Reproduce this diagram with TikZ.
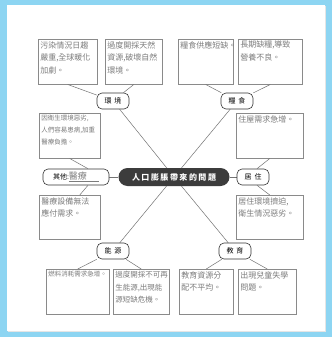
\documentclass[tikz,border=0pt]{standalone}
\usepackage{fontspec}
\newfontfamily\cjk{Noto Sans CJK TC}
\usetikzlibrary{backgrounds}
\definecolor{sky}{HTML}{8DD5F2}
\definecolor{boxgray}{HTML}{8A8A8A}
\definecolor{pencil}{HTML}{7C7C7C}
\definecolor{hubfill}{HTML}{3C3C3C}
\newcommand{\hand}{\cjk\fontsize{8}{12.5}\selectfont\color{pencil}}
\newcommand{\answer}[3]{\parbox[t][#2][t]{#1}{\raggedright #3}}

\begin{document}
\begin{tikzpicture}[x=1pt,y=-1pt,
  topic/.style={draw=black!80,fill=white,rounded corners=5pt,line width=.6pt,
    minimum width=32pt,minimum height=16pt,inner sep=1pt,
    font=\cjk\fontsize{7}{8}\selectfont},
  answerbox/.style={draw=boxgray,fill=white,anchor=north west,inner sep=2pt,
    line width=.5pt,font=\hand},
  link/.style={draw=black!55,line width=.5pt}]
\useasboundingbox (0,0) rectangle (332,337);

% centre
\node[fill=hubfill,rounded corners=9pt,minimum width=111pt,minimum height=18pt,
  text=white,font=\cjk\bfseries\fontsize{8}{9}\selectfont] (hub) at (174,177)
  {人\hspace{1.5pt}口\hspace{1.5pt}膨\hspace{1.5pt}脹\hspace{1.5pt}帶\hspace{1.5pt}來\hspace{1.5pt}的\hspace{1.5pt}問\hspace{1.5pt}題};

% topics
\node[topic] (env) at (113,101) {環\hspace{3pt}境};
\node[topic] (food) at (237,101) {糧\hspace{3pt}食};
\node[topic,minimum width=66pt] (other) at (76,177)
  {其他:{\cjk\fontsize{9}{10}\selectfont\color{pencil}\underline{醫療\hspace{12pt}}}};
\node[topic] (home) at (253,177) {居\hspace{3pt}住};
\node[topic] (energy) at (113,251) {能\hspace{3pt}源};
\node[topic] (edu) at (235,251) {教\hspace{3pt}育};

% answers
\node[answerbox] (env1) at (38,39) {\answer{55pt}{41pt}{污染情況日趨\\嚴重,全球暖化\\加劇。}};
\node[answerbox] (env2) at (105,39) {\answer{53pt}{41pt}{過度開採天然\\資源,破壞自然\\環境。}};
\node[answerbox] (food1) at (178,39) {\answer{51pt}{41pt}{糧食供應短缺。}};
\node[answerbox] (food2) at (238,39) {\answer{60pt}{41pt}{長期缺糧,導致\\營養不良。}};
\node[answerbox] (other1) at (39,113) {\answer{57pt}{41pt}{\fontsize{6.5}{12}\selectfont 因衛生環境惡劣,\\人們容易患病,加重\\醫療負擔。}};
\node[answerbox] (other2) at (39,195) {\answer{57pt}{40pt}{醫療設備無法\\應付需求。}};
\node[answerbox] (home1) at (236,113) {\answer{63pt}{41pt}{住屋需求急增。}};
\node[answerbox] (home2) at (236,195) {\answer{63pt}{40pt}{居住環境擠迫,\\衛生情況惡劣。}};
\node[answerbox] (energy1) at (46,269) {\answer{59pt}{41pt}{\fontsize{6.5}{12}\selectfont 燃料消耗需求急增。}};
\node[answerbox] (energy2) at (113,269) {\answer{52pt}{41pt}{\fontsize{7.5}{12.5}\selectfont 過度開採不可再\\生能源,出現能\\源短缺危機。}};
\node[answerbox] (edu1) at (179,269) {\answer{50pt}{41pt}{教育資源分\\配不平均。}};
\node[answerbox] (edu2) at (238,269) {\answer{54pt}{41pt}{出現兒童失學\\問題。}};

% short links
\draw[link] (env1.south) -- (env);
\draw[link] (env2.south) -- (env);
\draw[link] (food1.south) -- (food);
\draw[link] (food2.south) -- (food);
\draw[link] (other1.south) -- ([xshift=12]other.north);
\draw[link] ([xshift=12]other.south) -- ([xshift=10]other2.north);
\draw[link] (home1.south) -- ([xshift=4]home.north);
\draw[link] ([xshift=4]home.south) -- (home2.north);
\draw[link] (energy1.north) -- (energy);
\draw[link] (energy2.north) -- (energy);
\draw[link] (edu1.north) -- (edu);
\draw[link] (edu2.north) -- (edu);

\begin{scope}[on background layer]
\fill[sky] (0,0) rectangle (332,337);
\fill[black!10] (8,6) rectangle (326,332);
\fill[white] (7,5) rectangle (325,331);
\draw[link] (env) -- (hub.center);
\draw[link] (food) -- (hub.center);
\draw[link] (energy) -- (hub.center);
\draw[link] (edu) -- (hub.center);
\draw[link] (other) -- (hub);
\draw[link] (hub) -- (home);
\end{scope}
\end{tikzpicture}
\end{document}
